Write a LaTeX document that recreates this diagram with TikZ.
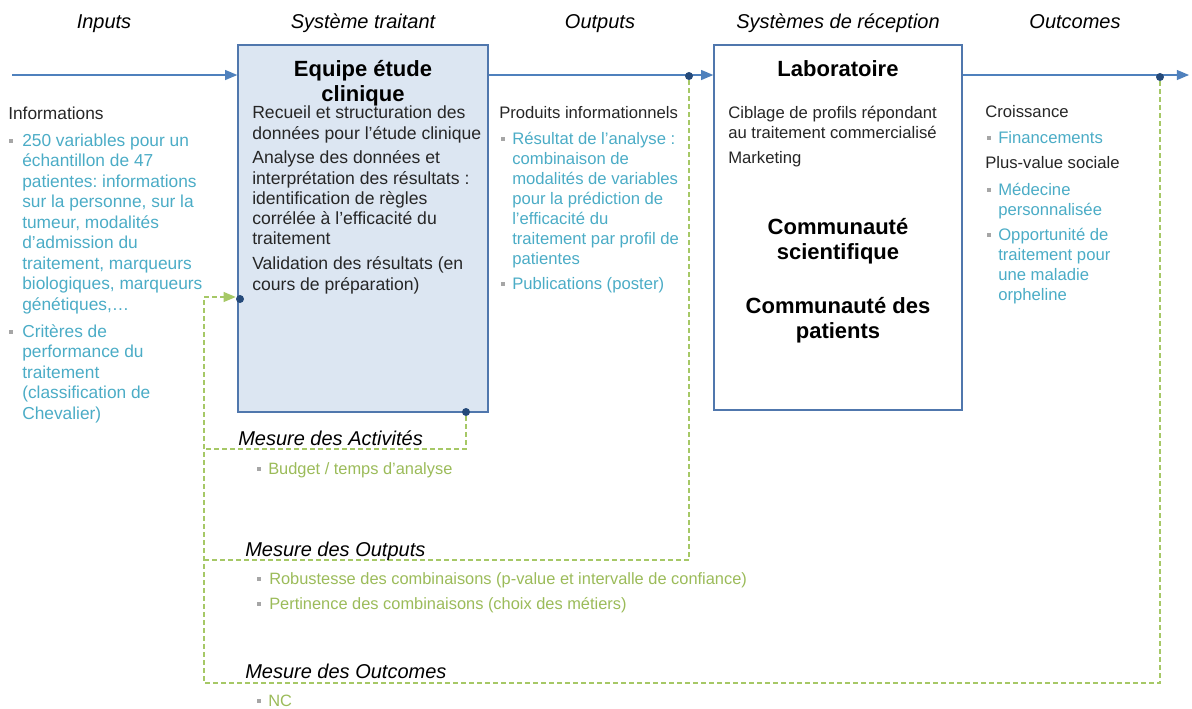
\documentclass[tikz,border=0pt]{standalone}
\usepackage{fontspec}
\setmainfont{Liberation Sans}
\usepackage{tikz}
\usetikzlibrary{arrows,positioning,fit,calc}

\definecolor{flowblue}{HTML}{4F81BD}
\definecolor{boxfill}{HTML}{DCE6F2}
\definecolor{boxline}{HTML}{5077AD}
\definecolor{dotblue}{HTML}{254A7A}
\definecolor{infocyan}{HTML}{4BACC6}
\definecolor{measgreen}{HTML}{9BBB59}
\definecolor{dashgreen}{HTML}{A6C866}
\definecolor{bulletgray}{HTML}{A6A6A6}
\definecolor{darktext}{HTML}{262626}

\begin{document}
\frenchspacing
\begin{tikzpicture}[
    x=0.75pt, y=-0.75pt,
    head/.style={anchor=base, inner sep=0, font=\fontsize{15}{18}\selectfont\itshape},
    box/.style={rectangle, draw=boxline, line width=1.1pt, inner sep=0},
    boxtitle/.style={anchor=north, inner sep=0, align=center, font=\fontsize{16.5}{19}\selectfont\bfseries},
    bodytxt/.style={anchor=north west, inner sep=0, align=left, text=darktext, font=\fontsize{13.2}{15.2}\selectfont},
    lefttxt/.style={inner sep=0, align=left, font=\fontsize{13}{15.4}\selectfont},
    smalltxt/.style={inner sep=0, align=left, font=\fontsize{12.5}{15}\selectfont},
    greentxt/.style={anchor=base west, inner sep=0, text=measgreen, font=\fontsize{12.3}{15}\selectfont},
    meas/.style={anchor=base west, inner sep=0, font=\fontsize{15}{18}\selectfont\itshape},
    sq/.style={rectangle, fill=bulletgray, inner sep=0, minimum size=3.3pt},
    dot/.style={circle, fill=dotblue, inner sep=0, minimum size=6pt},
    flow/.style={->, >=triangle 45, draw=flowblue, line width=1.1pt},
    measure/.style={draw=dashgreen, line width=1.1pt, dash pattern=on 3.5pt off 2.5pt},
]
    \useasboundingbox (0,0) rectangle (1192,708);

    % column headings
    \node[head] (hin) at (104,28) {Inputs};
    \node[head] (hsys) at (363,28) {Système traitant};
    \node[head] (hout) at (600,28) {Outputs};
    \node[head] (hrec) at (838,28) {Systèmes de réception};
    \node[head] (hoc) at (1075,28) {Outcomes};

    % the two boxes
    \node[box, fill=boxfill, fit={(238,45) (488,412)}] (equipe) {};
    \node[box, fill=white, fit={(714,45) (962,410)}] (labo) {};

    % inputs
    \node[lefttxt, anchor=base west, text=darktext] (info) at (8,119) {Informations};
    \node[lefttxt, anchor=north west, text=infocyan] (vars) at (22,131.6) {\strut 250 variables pour un\\échantillon de 47\\patientes: informations\\sur la personne, sur la\\tumeur, modalités\\d’admission du\\traitement, marqueurs\\biologiques, marqueurs\\génétiques,…};
    \node[lefttxt, anchor=north west, text=infocyan] (crit) at (22,322.6) {\strut Critères de\\performance du\\traitement\\(classification de\\Chevalier)};
    \node[sq] (bvars) at (11,141) {};
    \node[sq] (bcrit) at (11,332) {};

    % systeme traitant
    \node[boxtitle] (equipettl) at (363,58.3) {\strut Equipe étude\\clinique};
    \node[bodytxt] (recueil) at (252,104.3) {\strut Recueil et structuration des\\données pour l’étude clinique};
    \node[bodytxt] (analyse) at (252,149.3) {\strut Analyse des données et\\interprétation des résultats :\\identification de règles\\corrélée à l’efficacité du\\traitement};
    \node[bodytxt] (valid) at (252,255.3) {\strut Validation des résultats (en\\cours de préparation)};

    % outputs
    \node[smalltxt, anchor=base west, text=darktext] (prod) at (499,118) {Produits informationnels};
    \node[smalltxt, anchor=north west, text=infocyan] (resu) at (512,130) {\strut Résultat de l’analyse :\\combinaison de\\modalités de variables\\pour la prédiction de\\l’efficacité du\\traitement par profil de\\patientes};
    \node[smalltxt, anchor=base west, text=infocyan] (publi) at (512,289) {Publications (poster)};
    \node[sq] (bresu) at (503,139) {};
    \node[sq] (bpubli) at (503,284) {};

    % systemes de reception
    \node[boxtitle, anchor=base] (labottl) at (838,76) {Laboratoire};
    \node[smalltxt, anchor=north west, text=darktext] (ciblage) at (728,104) {\strut Ciblage de profils répondant\\au traitement commercialisé};
    \node[smalltxt, anchor=base west, text=darktext] (marketing) at (728,163) {Marketing};
    \node[boxtitle] (commsci) at (838,216.3) {\strut Communauté\\scientifique};
    \node[boxtitle] (commpat) at (838,295.3) {\strut Communauté des\\patients};

    % outcomes
    \node[smalltxt, anchor=base west, text=darktext] (croiss) at (985,117) {Croissance};
    \node[smalltxt, anchor=base west, text=infocyan] (finance) at (998,143) {Financements};
    \node[smalltxt, anchor=base west, text=darktext] (plusval) at (985,168) {Plus-value sociale};
    \node[smalltxt, anchor=north west, text=infocyan] (medecine) at (998,181) {\strut Médecine\\personnalisée};
    \node[smalltxt, anchor=north west, text=infocyan] (opport) at (998,226) {\strut Opportunité de\\traitement pour\\une maladie\\orpheline};
    \node[sq] (bfinance) at (989,138) {};
    \node[sq] (bmedecine) at (989,190) {};
    \node[sq] (bopport) at (989,235) {};

    % main flow
    \coordinate (flowin) at (12,75);
    \coordinate (flowout) at (1189,75);
    \draw[flow] (flowin) -- (equipe.west |- flowin);
    \draw[flow] (equipe.east |- flowin) -- (labo.west |- flowin);
    \draw[flow] (labo.east |- flowin) -- (flowout);

    % measures
    \node[dot] (actdot) at (466,412) {};
    \node[dot] (outdot) at (689,76) {};
    \node[dot] (ocdot) at (1160,77) {};
    \node[dot] (indot) at (240,299) {};
    \coordinate (actend) at (204,449);
    \coordinate (outend) at (204,560);
    \coordinate (ocend) at (204,683);
    \coordinate (loopup) at (204,297);
    \draw[measure] (actdot) |- (actend);
    \draw[measure] (outdot) |- (outend);
    \draw[measure] (ocdot) |- (ocend) -- (loopup);
    \draw[measure, ->, >=triangle 45] (loopup) -- (indot.west |- loopup);

    \node[meas] (mact) at (238,445) {Mesure des Activités};
    \node[greentxt] (budget) at (268,474) {Budget / temps d’analyse};
    \node[sq] (bbudget) at (259,469) {};
    \node[meas] (mout) at (245,556) {Mesure des Outputs};
    \node[greentxt] (robust) at (269,584) {Robustesse des combinaisons (p-value et intervalle de confiance)};
    \node[greentxt] (pertin) at (269,609) {Pertinence des combinaisons (choix des métiers)};
    \node[sq] (brobust) at (259,579) {};
    \node[sq] (bpertin) at (259,604) {};
    \node[meas] (moc) at (245,678) {Mesure des Outcomes};
    \node[greentxt] (nc) at (268,706) {NC};
    \node[sq] (bnc) at (259,701) {};
\end{tikzpicture}
\end{document}
